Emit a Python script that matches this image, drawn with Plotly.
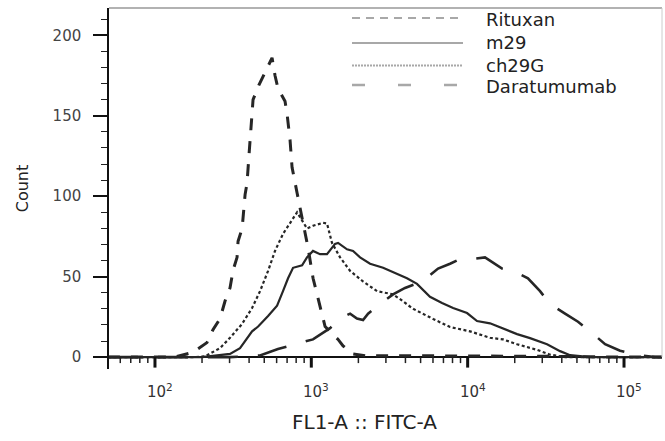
import math
import plotly.graph_objects as go

# ---------------- data (FITC intensity, count) ----------------
rituxan_x = [50, 134, 175, 215, 235, 261, 281, 302, 316, 335, 340, 361, 377, 388, 399, 411, 424,
             462, 498, 561, 586, 612, 679, 700, 731, 753, 811, 912, 953, 1026, 1086, 1138, 1225,
             1483, 1596, 1849, 2208, 5000, 10000, 30000, 100000, 180000]
rituxan_y = [0, 0, 3, 9, 17, 24, 35, 43, 54, 62, 72, 80, 101, 108, 125, 143, 160,
             169, 176, 186, 175, 167, 159, 151, 135, 118, 102, 78, 68, 49, 39, 31, 19,
             11, 7, 2, 0.8, 0.8, 0.8, 0.5, 0, 0]

m29_x = [50, 200, 302, 350, 418, 457, 529, 604, 659, 710, 764, 873, 938, 1025, 1137, 1260, 1418,
         1483, 1692, 1849, 2050, 2376, 2878, 3534, 4093, 4743, 5742, 6857, 8070, 9910, 11480,
         13900, 16830, 20700, 25060, 32200, 39000, 45200, 60700, 180000]
m29_y = [0, 0, 2, 5.6, 16, 19, 25.5, 32, 41, 49, 55.5, 57, 62, 66, 64, 64, 70.4,
         71, 67, 66, 62, 58, 55.5, 51.7, 49, 45.5, 37.5, 33.6, 30.5, 27.4, 22.4,
         21, 18, 14.3, 11.8, 8, 3.7, 1.2, 0, 0]

ch29g_x = [50, 180, 209, 261, 302, 360, 418, 470, 529, 586, 659, 731, 811, 938, 1025, 1189, 1260,
           1356, 1527, 1771, 2143, 2633, 3333, 3697, 4479, 6015, 7715, 10360, 13900, 16830,
           20700, 27800, 33650, 42000, 180000]
ch29g_y = [0, 0, 0.5, 5.6, 12, 20.5, 30.5, 41, 53.6, 66, 76.6, 83, 90, 80, 81.6, 83.5, 83,
           71, 62, 53.6, 47, 41, 39, 36, 30, 23.7, 18.7, 16, 12, 11,
           8, 4.5, 1.5, 0, 0]

dara_x = [50, 302, 470, 612, 787, 1025, 1318, 1596, 1771, 1959, 2143, 2307, 2754, 3333, 3976, 5106,
          6468, 7715, 8933, 10660, 12910, 16600, 20100, 24300, 29040, 33650, 41960, 50800,
          62500, 75700, 94400, 126800, 158000, 180000]
dara_y = [0, 0, 1, 5, 8, 11, 18, 25, 27, 24, 23, 27, 33, 39, 43, 47,
          55, 58, 61, 61, 62, 55, 53, 49, 41, 33, 27, 22,
          15, 8, 4, 1, 0, 0]

series_names = ["Rituxan", "m29", "ch29G", "Daratumumab"]
x_tickvals = [100, 1000, 10000, 100000]
x_ticktext = ["10<sup>2</sup>", "10<sup>3</sup>", "10<sup>4</sup>", "10<sup>5</sup>"]
x_minor_tickvals = [m * d for d in [10, 100, 1000, 10000, 100000] for m in range(2, 10)]
y_tickvals = [0, 50, 100, 150, 200]
x_title = "FL1-A :: FITC-A"
y_title = "Count"

# ---------------- figure ----------------
dark = "#262626"
fig = go.Figure()
fig.add_trace(go.Scatter(x=rituxan_x, y=rituxan_y, mode="lines", name=series_names[0],
                         line=dict(color=dark, width=3, dash="12px,11px"), showlegend=False))
fig.add_trace(go.Scatter(x=m29_x, y=m29_y, mode="lines", name=series_names[1],
                         line=dict(color=dark, width=2.2), showlegend=False))
fig.add_trace(go.Scatter(x=ch29g_x, y=ch29g_y, mode="lines", name=series_names[2],
                         line=dict(color=dark, width=2.2, dash="3px,2.5px"), showlegend=False))
fig.add_trace(go.Scatter(x=dara_x, y=dara_y, mode="lines", name=series_names[3],
                         line=dict(color=dark, width=2.6, dash="30px,20px"), showlegend=False))

W, H = 665, 441
L, R, T, B = 109, 662, 8, 369          # plot-area edges in pixels
y_range = [-7.4, 217]                   # room below 0 for the x-axis tick marks
x_range = [1.706, 5.243]
PH = B - T
px_per_count = PH / (y_range[1] - y_range[0])

def px_x(p):
    return (p - L) / (R - L)

def px_y(p):
    return (B - p) / PH

shapes = []
annotations = []

# x-axis tick marks (hanging below the zero line; shapes take data values on a log axis)
for v, txt in zip(x_tickvals, x_ticktext):
    shapes.append(dict(type="line", xref="x", yref="y", layer="above",
                       x0=v, x1=v, y0=0, y1=-10.5 / px_per_count,
                       line=dict(color="#111", width=3)))
    annotations.append(dict(text=txt, xref="x", yref="paper", x=math.log10(v), y=px_y(391),
                            xanchor="center", yanchor="middle", xshift=5, showarrow=False,
                            font=dict(family="DejaVu Sans", size=15, color="#333")))
for v in x_minor_tickvals:
    lv = math.log10(v)
    if x_range[0] <= lv <= x_range[1]:
        shapes.append(dict(type="line", xref="x", yref="y", layer="above",
                           x0=v, x1=v, y0=0, y1=-6 / px_per_count,
                           line=dict(color="#222", width=1.5)))

annotations.append(dict(text=x_title, xref="paper", yref="paper", x=px_x(364), y=px_y(422),
                        xanchor="center", yanchor="middle", showarrow=False,
                        font=dict(family="DejaVu Sans", size=20, color="#222")))

# manual legend (long samples, light gray like the reference)
legend_styles = [
    dict(dash="8px,6px", width=2),
    dict(dash="solid", width=2),
    dict(dash="2px,1px", width=2),
    dict(dash="13px,33px", width=2.5),
]
legend_line_y = [18, 43, 65.5, 85]
legend_text_y = [19, 43, 65, 86]
for name, st, ly, ty in zip(series_names, legend_styles, legend_line_y, legend_text_y):
    shapes.append(dict(type="line", xref="paper", yref="paper",
                       x0=px_x(352), x1=px_x(463), y0=px_y(ly), y1=px_y(ly),
                       line=dict(color="#a8a8a8", width=st["width"], dash=st["dash"])))
    annotations.append(dict(text=name, xref="paper", yref="paper", x=px_x(484), y=px_y(ty),
                            xanchor="left", yanchor="middle", showarrow=False,
                            font=dict(family="DejaVu Sans", size=18, color="#222")))

# frame top / right (light gray)
shapes.append(dict(type="line", xref="paper", yref="paper", x0=0, x1=1, y0=1, y1=1,
                   line=dict(color="#999", width=1.5)))
shapes.append(dict(type="line", xref="paper", yref="paper", x0=1, x1=1, y0=px_y(357), y1=1,
                   line=dict(color="#ccc", width=1)))

fig.update_layout(
    width=W, height=H,
    margin=dict(l=L, r=W - R, t=T, b=H - B),
    paper_bgcolor="white", plot_bgcolor="white",
    shapes=shapes, annotations=annotations,
    font=dict(family="DejaVu Sans", color="#333"),
    xaxis=dict(
        type="log", range=x_range,
        showticklabels=False, ticks="",
        showline=False, showgrid=False, zeroline=False,
    ),
    yaxis=dict(
        range=y_range,
        tickmode="array", tickvals=y_tickvals,
        ticks="outside", ticklen=14, tickwidth=2, tickcolor="#111",
        showline=True, linecolor="#111", linewidth=1.5,
        showgrid=False,
        zeroline=True, zerolinecolor="#111", zerolinewidth=1.5,
        tickfont=dict(family="DejaVu Sans", size=15, color="#444"),
        ticklabelstandoff=9,
        minor=dict(ticks="outside", ticklen=6, tickwidth=1, tickcolor="#222", dtick=10, showgrid=False),
        title=dict(text=y_title, font=dict(family="DejaVu Sans", size=16, color="#222"), standoff=20),
    ),
)

fig.write_html("out.html")
